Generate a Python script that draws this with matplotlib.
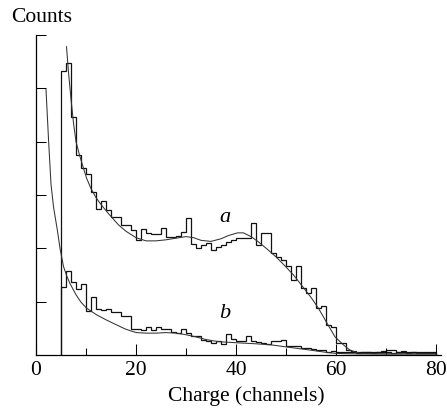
import matplotlib
matplotlib.use('Agg')
import matplotlib.pyplot as plt
import numpy as np

plt.rcParams['font.family'] = ['Liberation Serif', 'DejaVu Serif']

# histogram bins are one channel wide, starting at channel 5
first_channel = 5
counts_a = [5.33, 5.47, 4.47, 3.75, 3.50, 3.39, 3.06, 2.74, 2.89, 2.71,
            2.58, 2.58, 2.44, 2.44, 2.34, 2.16, 2.36, 2.28, 2.26, 2.26,
            2.38, 2.22, 2.22, 2.24, 2.30, 2.56, 2.09, 2.00, 2.06, 2.10,
            1.97, 2.03, 2.06, 2.12, 2.16, 2.19, 2.19, 2.20, 2.47, 2.06,
            2.29, 2.29, 1.91, 1.83, 1.78, 1.67, 1.40, 1.67, 1.25, 1.16,
            1.25, 0.88, 0.92, 0.56, 0.53, 0.22, 0.23, 0.09, 0.06, 0.05,
            0.06, 0.05, 0.06, 0.05, 0.05, 0.10, 0.10, 0.06, 0.07, 0.05,
            0.06, 0.05, 0.04, 0.05, 0.05]
counts_b = [1.27, 1.58, 1.36, 1.24, 1.34, 0.83, 1.09, 0.87, 0.84, 0.86,
            0.81, 0.81, 0.73, 0.73, 0.48, 0.48, 0.46, 0.52, 0.47, 0.52,
            0.49, 0.48, 0.44, 0.41, 0.49, 0.41, 0.36, 0.36, 0.28, 0.27,
            0.23, 0.27, 0.21, 0.39, 0.30, 0.26, 0.26, 0.36, 0.27, 0.24,
            0.22, 0.21, 0.27, 0.27, 0.28, 0.16, 0.17, 0.16, 0.13, 0.14,
            0.12, 0.09, 0.09, 0.06, 0.07, 0.05, 0.06, 0.05, 0.07, 0.04,
            0.05, 0.06, 0.04, 0.05, 0.08, 0.05, 0.04, 0.06, 0.05, 0.04,
            0.05, 0.04, 0.05, 0.04, 0.04]

# fitted curves
fit_a_x = [6.1, 6.5, 7.0, 7.5, 8.0, 8.7, 9.5, 10.1, 11, 12, 13.1, 14.5, 16.5,
           18, 20, 22, 24, 26, 28, 30, 31.5, 33, 35, 37, 38.5, 40.3, 41.5,
           43, 44.5, 46.3, 48, 49.8, 51.5, 53.1, 55, 56.5, 58, 59.8, 61.5,
           62.8, 64.8, 70, 80]
fit_a_y = [5.78, 5.30, 4.80, 4.35, 4.00, 3.75, 3.50, 3.32, 3.12, 2.95, 2.81,
           2.65, 2.44, 2.32, 2.20, 2.14, 2.14, 2.16, 2.19, 2.22, 2.20, 2.15,
           2.13, 2.18, 2.24, 2.29, 2.29, 2.22, 2.12, 1.98, 1.84, 1.67, 1.50,
           1.31, 1.08, 0.875, 0.63, 0.34, 0.19, 0.09, 0.03, 0.02, 0.02]
fit_b_x = [2.0, 2.5, 3.0, 3.5, 4.27, 4.8, 5.5, 6.2, 6.8, 8, 9, 10.1, 12, 14,
           16, 17.8, 19, 20.1, 22, 24, 26, 28, 30, 32, 34, 36.5, 40, 44, 47,
           51, 55, 58, 60, 65, 80]
fit_b_y = [4.98, 4.05, 3.20, 2.78, 2.34, 2.00, 1.66, 1.47, 1.34, 1.13, 0.99,
           0.88, 0.76, 0.66, 0.57, 0.49, 0.45, 0.42, 0.41, 0.41, 0.42, 0.41,
           0.38, 0.34, 0.29, 0.25, 0.23, 0.21, 0.19, 0.14, 0.09, 0.05, 0.03,
           0.02, 0.02]

x_major = [0, 20, 40, 60, 80]
x_minor = [10, 30, 50, 70]
y_ticks = [1, 2, 3, 4, 5, 6]

fig = plt.figure(figsize=(4.47, 4.08), dpi=100)
ax = fig.add_axes([36 / 447, 53 / 408, 405 / 447, 320 / 408])

edges = np.arange(first_channel, first_channel + len(counts_a) + 1)
ax.stairs(counts_a, edges, color='#111111', lw=0.9)
ax.stairs(counts_b, edges, color='#111111', lw=0.9)
ax.plot(fit_a_x, fit_a_y, color='#333333', lw=0.75)
ax.plot(fit_b_x, fit_b_y, color='#333333', lw=0.75)

ax.text(37.8, 2.58, 'a', style='italic', fontsize=16, ha='center', va='center')
ax.text(37.8, 0.77, 'b', style='italic', fontsize=16, ha='center', va='center')

ax.set_xlim(0, 81)
ax.set_ylim(0, 6)
for side in ['top', 'right']:
    ax.spines[side].set_visible(False)
for side in ['left', 'bottom']:
    ax.spines[side].set_linewidth(0.9)

ax.set_xticks(x_major)
ax.set_xticks(x_minor, minor=True)
ax.set_yticks(y_ticks)
ax.set_yticklabels([])
ax.tick_params(axis='x', which='major', direction='in', length=8, width=0.75,
               labelsize=15.5, pad=4)
ax.tick_params(axis='x', which='minor', direction='in', length=5, width=0.75)
ax.tick_params(axis='y', direction='in', length=7.5, width=0.75)

fig.text(246 / 447, 1 - 401 / 408, 'Charge (channels)', fontsize=15.5,
         ha='center', va='baseline')
fig.text(11 / 447, 1 - 21.5 / 408, 'Counts', fontsize=15.5,
         ha='left', va='baseline')

fig.savefig('out.png', dpi=100)
